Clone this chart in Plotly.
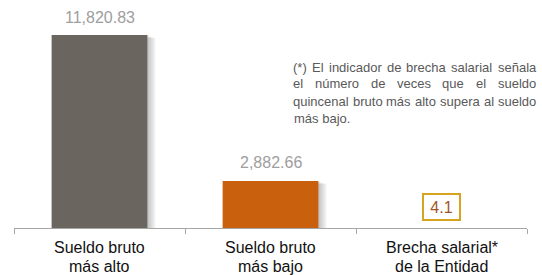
import plotly.graph_objects as go

# ---------------- data ----------------
categories = ["Sueldo bruto\nmás alto", "Sueldo bruto\nmás bajo", "Brecha salarial*\nde la Entidad"]
salary_values = [11820.83, 2882.66]
gap_value = 4.1
bar_colors = ["#6A655F", "#C8600E"]
note_lines = [
    "(*) El indicador de brecha salarial señala",
    "el número de veces que el sueldo",
    "quincenal bruto más alto supera al sueldo",
    "más bajo.",
]

FONT = "Liberation Sans, Arial, sans-serif"
W, H = 542, 275
ML, MR, MT, MB = 14, 15, 10, 47
PW = W - ML - MR
PH = H - MT - MB
Y_MAX = 13352


def px_x(px):
    return (px - ML) / PW


def px_y(py):
    return (H - MB - py) / PH


# Arial / Liberation Sans advance widths (1/1000 em)
AW = {" ": 278, "(": 333, ")": 333, "*": 389, ".": 278, "a": 556, "b": 556, "c": 500, "d": 556,
      "e": 556, "f": 278, "g": 556, "h": 556, "i": 222, "j": 222, "k": 500, "l": 222, "m": 833,
      "n": 556, "o": 556, "p": 556, "q": 556, "r": 333, "s": 500, "t": 278, "u": 556, "v": 500,
      "w": 722, "x": 500, "y": 500, "z": 500, "E": 667, "á": 556, "é": 556, "ñ": 556, "ú": 556}


def text_w(s, size):
    return sum(AW.get(c, 556) for c in s) * size / 1000


fig = go.Figure()

xs = list(range(len(salary_values)))
bw = 0.56
# soft drop shadow
for k in range(1, 5):
    fig.add_trace(go.Bar(
        x=xs, y=[v - k * 45 for v in salary_values],
        width=bw, offset=-bw / 2 + k * 2.0 / PW * 3,
        marker=dict(color="rgba(0,0,0,0.06)", line=dict(width=0)),
        hoverinfo="skip", showlegend=False,
    ))
fig.add_trace(go.Bar(
    x=xs, y=salary_values, width=bw, offset=-bw / 2,
    marker=dict(color=bar_colors, line=dict(width=0)),
    showlegend=False,
))

ann = []
# value labels
for i, v in enumerate(salary_values):
    ann.append(dict(x=i, y=v, xref="x", yref="y", text=f"{v:,.2f}", showarrow=False,
                    yanchor="middle", xanchor="center", yshift=18,
                    font=dict(family=FONT, size=16, color="#9E9E9E")))
# gap box
ann.append(dict(x=len(salary_values), y=0, xref="x", yref="y", text=f"{gap_value}",
                showarrow=False, yanchor="middle", xanchor="center", yshift=21,
                width=35, height=24, borderwidth=2, bordercolor="#D6A41E", borderpad=0,
                bgcolor="white", font=dict(family=FONT, size=16, color="#A0562A")))
# category labels
for i, c in enumerate(categories):
    for j, line in enumerate(c.split("\n")):
        ann.append(dict(x=i, y=px_y(248 + 18 * j), xref="x", yref="paper", text=line,
                        showarrow=False, yanchor="middle", xanchor="center",
                        font=dict(family=FONT, size=16, color="#111111")))
# justified note
NS = 13
left, right = 292, 535
for li, line in enumerate(note_lines):
    yy = px_y(67 + 17 * li)
    words = line.split(" ")
    if li == len(note_lines) - 1 or len(words) == 1:
        ann.append(dict(x=px_x(left), y=yy, xref="paper", yref="paper", text=line,
                        showarrow=False, xanchor="left", yanchor="middle",
                        font=dict(family=FONT, size=NS, color="#595959")))
        continue
    ws = [text_w(w, NS) for w in words]
    gap = (right - left - sum(ws)) / (len(words) - 1)
    pos = left
    for w, wd in zip(words, ws):
        ann.append(dict(x=px_x(pos), y=yy, xref="paper", yref="paper", text=w,
                        showarrow=False, xanchor="left", yanchor="middle", borderpad=0,
                        font=dict(family=FONT, size=NS, color="#595959")))
        pos += wd + gap

n = len(categories)
fig.update_layout(
    width=W, height=H, margin=dict(l=ML, r=MR, t=MT, b=MB),
    paper_bgcolor="white", plot_bgcolor="white", barmode="overlay",
    xaxis=dict(range=[-0.5, n - 0.5], showgrid=False, zeroline=False, showline=True,
               linecolor="#A6A6A6", linewidth=1, ticks="outside", ticklen=5,
               tickcolor="#A6A6A6", tickvals=[i - 0.5 for i in range(n + 1)],
               showticklabels=False),
    yaxis=dict(range=[0, Y_MAX], visible=False),
    annotations=ann,
)

fig.write_html("out.html", config={"displayModeBar": False},
               post_script="document.body.style.margin='0';document.body.style.padding='0';"
                           "document.documentElement.style.overflow='hidden';")
